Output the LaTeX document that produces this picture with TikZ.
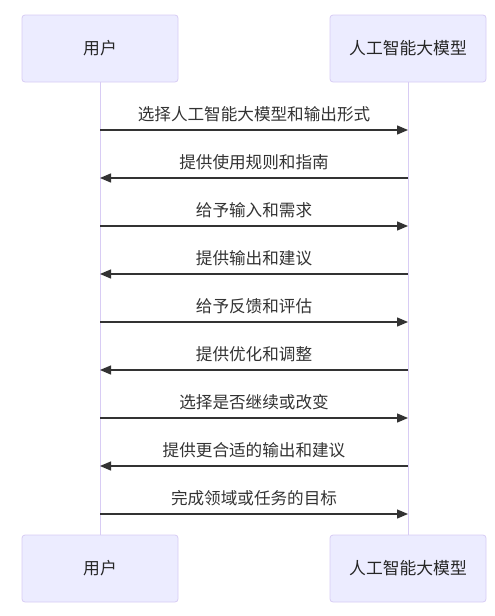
\documentclass[tikz,border=0pt]{standalone}
\usepackage{fontspec}
\setmainfont{Noto Sans CJK SC}
\usetikzlibrary{arrows.meta}
\definecolor{boxfill}{HTML}{ECECFF}
\definecolor{boxline}{HTML}{D8CCF4}
\definecolor{lifeline}{HTML}{D8CCF4}
\definecolor{msgline}{HTML}{333333}
\begin{document}
\begin{tikzpicture}[x=1pt,y=-1pt,
  actor/.style={draw=boxline,fill=boxfill,rounded corners=3pt,line width=0.8pt,
    minimum width=156pt,minimum height=67pt,inner sep=0pt,
    font=\fontsize{16.8}{20}\selectfont,text=black!85},
  msg/.style={draw=msgline,line width=1.3pt,-{Triangle[length=11pt,width=9pt]}},
  lbl/.style={font=\fontsize{16.6}{20}\selectfont,text=black!80,inner sep=0pt}]
\useasboundingbox (0,0) rectangle (495,616);
\node[actor] (u1) at (100,48.5) {用户};
\node[actor] (m1) at (408,48.5) {人工智能大模型};
\node[actor] (u2) at (100,568.5) {用户};
\node[actor] (m2) at (408,568.5) {人工智能大模型};
\draw[lifeline,line width=0.9pt] (u1.south) -- (u2.north);
\draw[lifeline,line width=0.9pt] (m1.south) -- (m2.north);
\foreach \i/\y/\d/\t in {1/130/r/选择人工智能大模型和输出形式,
                      2/178/l/提供使用规则和指南,
                      3/226/r/给予输入和需求,
                      4/274/l/提供输出和建议,
                      5/322/r/给予反馈和评估,
                      6/370/l/提供优化和调整,
                      7/418/r/选择是否继续或改变,
                      8/466/l/提供更合适的输出和建议,
                      9/514/r/完成领域或任务的目标}{
  \coordinate (a\i) at (100,\y);
  \coordinate (b\i) at (408,\y);
  \node[lbl] (t\i) at (254,\y-16) {\t};
  \if r\d
    \draw[msg] (a\i) -- (b\i);
  \else
    \draw[msg] (b\i) -- (a\i);
  \fi
}
\end{tikzpicture}
\end{document}
